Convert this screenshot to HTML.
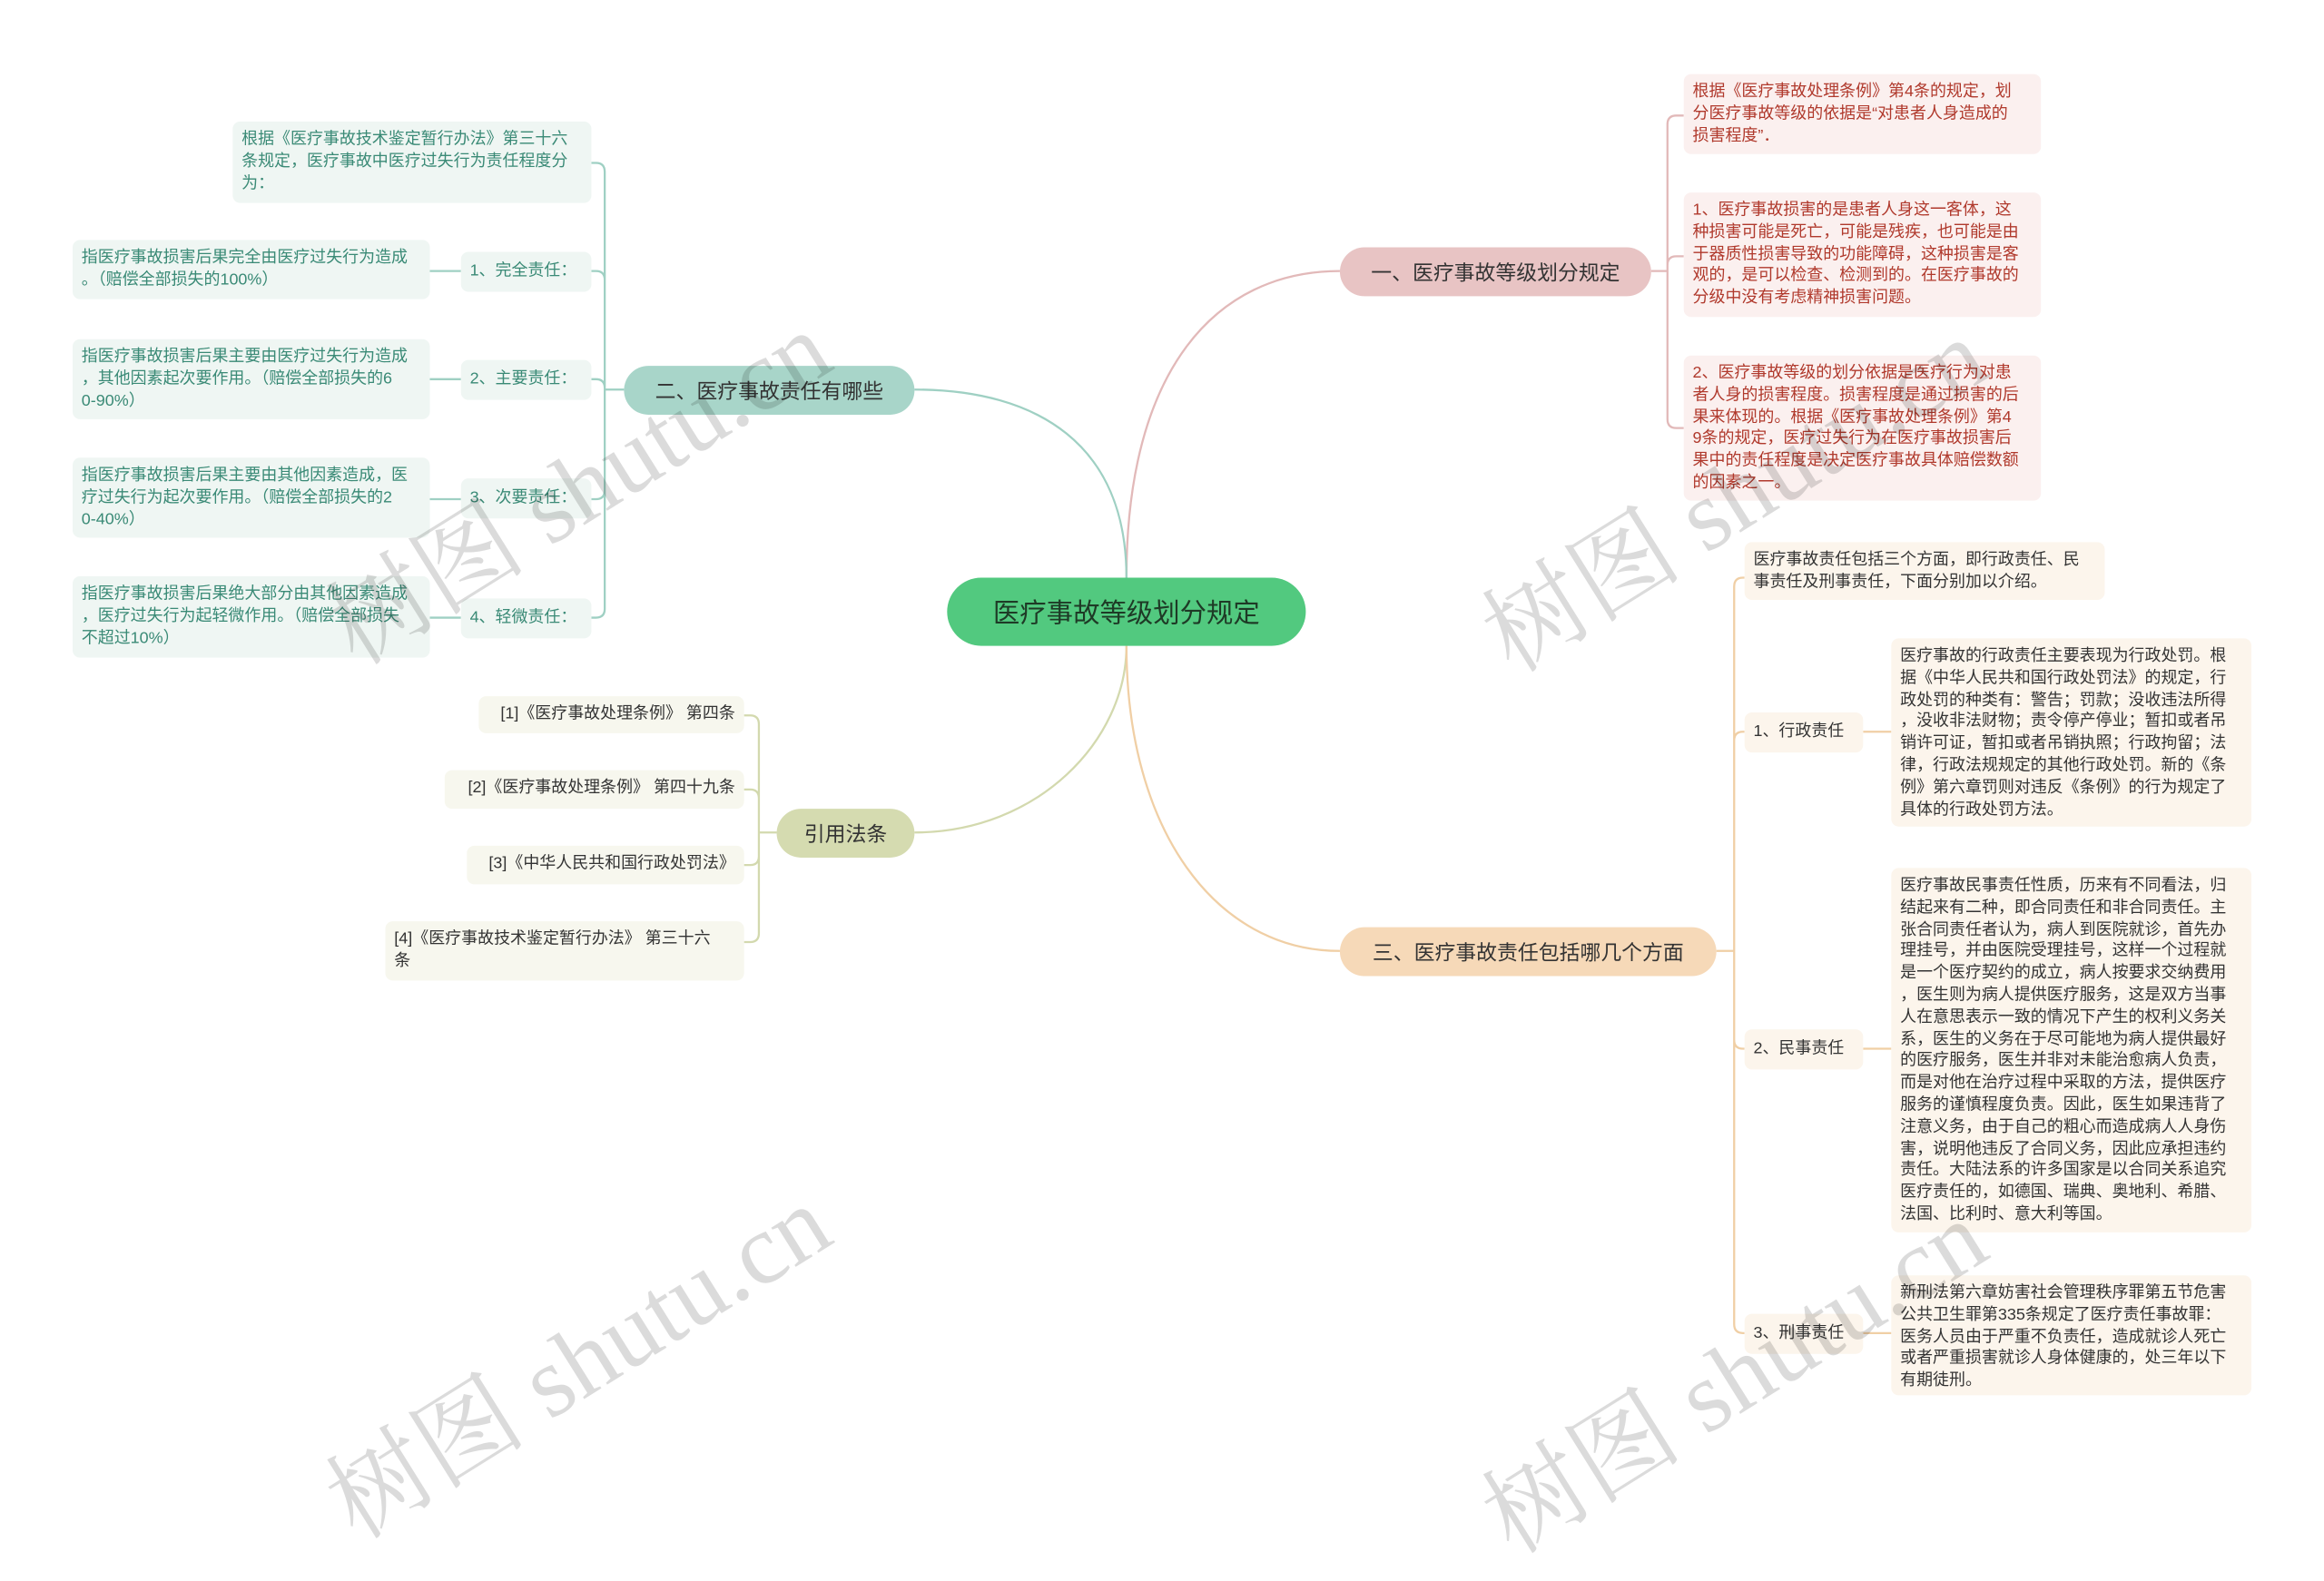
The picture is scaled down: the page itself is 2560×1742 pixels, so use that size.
<!DOCTYPE html>
<html><head><meta charset="utf-8">
<style>
html,body{margin:0;padding:0;background:#fff;width:2560px;height:1619px;overflow:hidden}
#w{position:absolute;left:0;top:0;width:1568px;height:992px;transform:scale(1.6327,1.63206);transform-origin:0 0;font-family:"Liberation Sans","Noto Sans CJK SC",sans-serif}
.n{position:absolute;box-sizing:border-box;white-space:nowrap;font-size:11px;line-height:14.8px;padding:5px 6px;border-radius:5px}
.r{background:#fbf0ef;color:#b0392c}
.t{background:#eff6f3;color:#3a8a76}
.o{background:#f7f7ee;color:#333}
.y{background:#fcf5ec;color:#333}
.b{position:absolute;box-sizing:border-box;border-radius:17px;font-size:14px;color:#333;display:flex;align-items:center;justify-content:center;white-space:nowrap}
.wm{position:absolute;font-family:"Liberation Serif","Noto Serif CJK SC",serif;font-size:68px;color:rgba(0,0,0,0.14);transform:rotate(-32deg);transform-origin:0 0;white-space:nowrap}
</style></head><body><div id="w">
<svg width="1568" height="992" style="position:absolute;left:0;top:0" fill="none" stroke-width="1.4">
<g stroke="#e2b9b9">
<path d="M760,390 C760,250 820,183 904,183"/>
<path d="M1114,183 H1125 M1125,183 V84 Q1125,78 1131,78 H1136 M1125,183 V179 Q1125,173 1131,173 H1136 M1125,183 V283 Q1125,289 1131,289 H1136"/>
</g>
<g stroke="#9fd0c3">
<path d="M760,390 C760,300 700,263 617,263"/>
<path d="M421,263 H408 M408,263 V116 Q408,110 402,110 H399 M408,263 V189 Q408,183 402,183 H399 M408,263 V262 Q408,256 402,256 H399 M408,263 V331 Q408,337 402,337 H399 M408,263 V411 Q408,417 402,417 H399"/>
<path d="M311,183 H290 M311,256 H290 M311,337 H290 M311,417 H290"/>
</g>
<g stroke="#d3d9ae">
<path d="M760,436 C760,500 700,562 617,562"/>
<path d="M524,562 H512 M512,562 V489 Q512,483 506,483 H502 M512,562 V539 Q512,533 506,533 H502 M512,562 V578 Q512,584 506,584 H502 M512,562 V630 Q512,636 506,636 H502"/>
</g>
<g stroke="#f0cfa5">
<path d="M760,436 C760,560 820,642 904,642"/>
<path d="M1158,642 H1170 M1170,642 V396 Q1170,390 1176,390 H1177 M1170,642 V500 Q1170,494 1176,494 H1177 M1170,642 V702 Q1170,708 1176,708 H1177 M1170,642 V894 Q1170,900 1176,900 H1177"/>
<path d="M1257,494 H1276 M1257,708 H1276 M1257,900 H1276"/>
</g>
</svg>

<div class="b" style="left:639px;top:390px;width:242px;height:46px;border-radius:23px;background:#52c97f;color:#1e3a26;font-size:18px">医疗事故等级划分规定</div>
<div class="b" style="left:904px;top:167px;width:210px;height:33px;background:#e8c4c4">一、医疗事故等级划分规定</div>
<div class="b" style="left:421px;top:247px;width:196px;height:33px;background:#a8d5c9">二、医疗事故责任有哪些</div>
<div class="b" style="left:524px;top:546px;width:93px;height:33px;background:#d5dbb0">引用法条</div>
<div class="b" style="left:904px;top:626px;width:254px;height:33px;background:#f6d9b8">三、医疗事故责任包括哪几个方面</div>

<div class="n r" style="left:1136px;top:50px;width:241px;height:54px">根据《医疗事故处理条例》第4条的规定，划<br>分医疗事故等级的依据是“对患者人身造成的<br>损害程度”．</div>
<div class="n r" style="left:1136px;top:130px;width:241px;height:84px">1、医疗事故损害的是患者人身这一客体，这<br>种损害可能是死亡，可能是残疾，也可能是由<br>于器质性损害导致的功能障碍，这种损害是客<br>观的，是可以检查、检测到的。在医疗事故的<br>分级中没有考虑精神损害问题。</div>
<div class="n r" style="left:1136px;top:240px;width:241px;height:98px">2、医疗事故等级的划分依据是医疗行为对患<br>者人身的损害程度。损害程度是通过损害的后<br>果来体现的。根据《医疗事故处理条例》第4<br>9条的规定，医疗过失行为在医疗事故损害后<br>果中的责任程度是决定医疗事故具体赔偿数额<br>的因素之一。</div>

<div class="n t" style="left:157px;top:82px;width:242px;height:55px">根据《医疗事故技术鉴定暂行办法》第三十六<br>条规定，医疗事故中医疗过失行为责任程度分<br>为：</div>
<div class="n t" style="left:311px;top:170px;width:88px;height:27px;padding-top:6px">1、完全责任：</div>
<div class="n t" style="left:49px;top:162px;width:241px;height:40px">指医疗事故损害后果完全由医疗过失行为造成<br>。（赔偿全部损失的100%）</div>
<div class="n t" style="left:311px;top:243px;width:88px;height:27px;padding-top:6px">2、主要责任：</div>
<div class="n t" style="left:49px;top:229px;width:241px;height:54px">指医疗事故损害后果主要由医疗过失行为造成<br>，其他因素起次要作用。（赔偿全部损失的6<br>0-90%）</div>
<div class="n t" style="left:311px;top:323px;width:88px;height:27px;padding-top:6px">3、次要责任：</div>
<div class="n t" style="left:49px;top:309px;width:241px;height:54px">指医疗事故损害后果主要由其他因素造成，医<br>疗过失行为起次要作用。（赔偿全部损失的2<br>0-40%）</div>
<div class="n t" style="left:311px;top:404px;width:88px;height:27px;padding-top:6px">4、轻微责任：</div>
<div class="n t" style="left:49px;top:389px;width:241px;height:55px">指医疗事故损害后果绝大部分由其他因素造成<br>，医疗过失行为起轻微作用。（赔偿全部损失<br>不超过10%）</div>

<div class="n o" style="left:323px;top:470px;width:179px;height:25px;text-align:right">[1]《医疗事故处理条例》 第四条</div>
<div class="n o" style="left:300px;top:520px;width:202px;height:26px;text-align:right">[2]《医疗事故处理条例》 第四十九条</div>
<div class="n o" style="left:315px;top:571px;width:187px;height:26px;text-align:right">[3]《中华人民共和国行政处罚法》</div>
<div class="n o" style="left:260px;top:622px;width:242px;height:40px">[4]《医疗事故技术鉴定暂行办法》 第三十六<br>条</div>

<div class="n y" style="left:1177px;top:366px;width:243px;height:39px">医疗事故责任包括三个方面，即行政责任、民<br>事责任及刑事责任，下面分别加以介绍。</div>
<div class="n y" style="left:1177px;top:481px;width:80px;height:27px;padding-top:6px">1、行政责任</div>
<div class="n y" style="left:1276px;top:431px;width:243px;height:127px">医疗事故的行政责任主要表现为行政处罚。根<br>据《中华人民共和国行政处罚法》的规定，行<br>政处罚的种类有：警告；罚款；没收违法所得<br>，没收非法财物；责令停产停业；暂扣或者吊<br>销许可证，暂扣或者吊销执照；行政拘留；法<br>律，行政法规规定的其他行政处罚。新的《条<br>例》第六章罚则对违反《条例》的行为规定了<br>具体的行政处罚方法。</div>
<div class="n y" style="left:1177px;top:695px;width:80px;height:27px;padding-top:6px">2、民事责任</div>
<div class="n y" style="left:1276px;top:586px;width:243px;height:246px">医疗事故民事责任性质，历来有不同看法，归<br>结起来有二种，即合同责任和非合同责任。主<br>张合同责任者认为，病人到医院就诊，首先办<br>理挂号，并由医院受理挂号，这样一个过程就<br>是一个医疗契约的成立，病人按要求交纳费用<br>，医生则为病人提供医疗服务，这是双方当事<br>人在意思表示一致的情况下产生的权利义务关<br>系，医生的义务在于尽可能地为病人提供最好<br>的医疗服务，医生并非对未能治愈病人负责，<br>而是对他在治疗过程中采取的方法，提供医疗<br>服务的谨慎程度负责。因此，医生如果违背了<br>注意义务，由于自己的粗心而造成病人人身伤<br>害，说明他违反了合同义务，因此应承担违约<br>责任。大陆法系的许多国家是以合同关系追究<br>医疗责任的，如德国、瑞典、奥地利、希腊、<br>法国、比利时、意大利等国。</div>
<div class="n y" style="left:1177px;top:887px;width:80px;height:27px;padding-top:6px">3、刑事责任</div>
<div class="n y" style="left:1276px;top:861px;width:243px;height:81px">新刑法第六章妨害社会管理秩序罪第五节危害<br>公共卫生罪第335条规定了医疗责任事故罪：<br>医务人员由于严重不负责任，造成就诊人死亡<br>或者严重损害就诊人身体健康的，处三年以下<br>有期徒刑。</div>

<div class="wm" style="left:200px;top:385px">树图 shutu.cn</div>
<div class="wm" style="left:980px;top:390px">树图 shutu.cn</div>
<div class="wm" style="left:200px;top:975px">树图 shutu.cn</div>
<div class="wm" style="left:980px;top:985px">树图 shutu.cn</div>
</div></body></html>
